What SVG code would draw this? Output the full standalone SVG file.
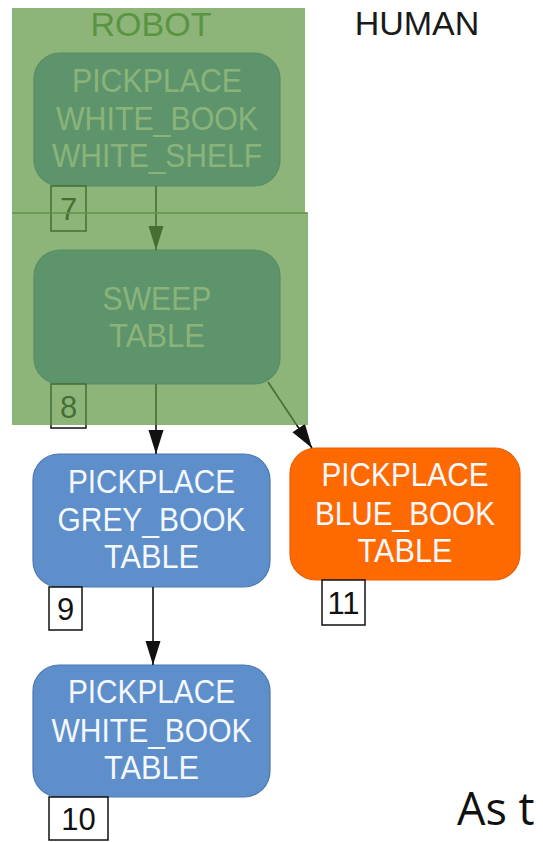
<svg xmlns="http://www.w3.org/2000/svg" width="543" height="842" viewBox="0 0 543 842">
  <style>
    .node { stroke-width: 1.2; }
    .task { fill: #5e8fcb; stroke: #4a78b2; }
    .human { fill: #ff6a00; stroke: #e55f00; }
    .label { font-family: "Liberation Sans", Arial, sans-serif; font-size: 33px; fill: #f4f8ff; text-anchor: middle; }
    .idbox { fill: #ffffff; stroke: #111111; stroke-width: 1.5; }
    .idtxt { font-family: "Liberation Sans", Arial, sans-serif; font-size: 31px; fill: #111111; text-anchor: middle; }
    .edge { stroke: #111111; stroke-width: 1.6; fill: none; marker-end: url(#arrow); }
    .lane { fill: #5c9541; fill-opacity: 0.7; }
    .title { font-family: "Liberation Sans", Arial, sans-serif; font-size: 34px; }
  </style>
  <defs>
    <marker id="arrow" markerUnits="userSpaceOnUse" markerWidth="26" markerHeight="16" refX="24" refY="7.5" orient="auto">
      <path d="M0,0 L24,7.5 L0,15 z" fill="#111111"/>
    </marker>
  </defs>

  <rect width="543" height="842" fill="#ffffff"/>

  <!-- task nodes -->
  <g id="node-7">
    <rect class="node task" x="34" y="53" width="246" height="133" rx="26"/>
    <text class="label" x="157" y="92" textLength="170" lengthAdjust="spacingAndGlyphs">PICKPLACE</text>
    <text class="label" x="157" y="130" textLength="202" lengthAdjust="spacingAndGlyphs">WHITE_BOOK</text>
    <text class="label" x="157" y="167" textLength="210" lengthAdjust="spacingAndGlyphs">WHITE_SHELF</text>
    <rect class="idbox" x="51" y="186" width="35" height="45"/>
    <text class="idtxt" x="68.5" y="220">7</text>
  </g>
  <g id="node-8">
    <rect class="node task" x="34" y="250" width="246" height="134" rx="26"/>
    <text class="label" x="157" y="310" textLength="109" lengthAdjust="spacingAndGlyphs">SWEEP</text>
    <text class="label" x="157" y="347" textLength="96" lengthAdjust="spacingAndGlyphs">TABLE</text>
    <rect class="idbox" x="51" y="384" width="35" height="44"/>
    <text class="idtxt" x="68.5" y="418">8</text>
  </g>
  <g id="node-9">
    <rect class="node task" x="33" y="454" width="237" height="133" rx="26"/>
    <text class="label" x="151.5" y="493" textLength="167" lengthAdjust="spacingAndGlyphs">PICKPLACE</text>
    <text class="label" x="151.5" y="531" textLength="188" lengthAdjust="spacingAndGlyphs">GREY_BOOK</text>
    <text class="label" x="151.5" y="568" textLength="95" lengthAdjust="spacingAndGlyphs">TABLE</text>
    <rect class="idbox" x="49" y="587" width="33" height="43"/>
    <text class="idtxt" x="65.5" y="620">9</text>
  </g>
  <g id="node-10">
    <rect class="node task" x="33" y="665" width="237" height="132" rx="26"/>
    <text class="label" x="151.5" y="703" textLength="167" lengthAdjust="spacingAndGlyphs">PICKPLACE</text>
    <text class="label" x="151.5" y="742" textLength="200" lengthAdjust="spacingAndGlyphs">WHITE_BOOK</text>
    <text class="label" x="151.5" y="779" textLength="95" lengthAdjust="spacingAndGlyphs">TABLE</text>
    <rect class="idbox" x="49" y="797" width="59" height="43"/>
    <text class="idtxt" x="78.5" y="830">10</text>
  </g>
  <g id="node-11">
    <rect class="node human" x="290" y="448" width="230" height="132" rx="26"/>
    <text class="label" x="405" y="486" textLength="167" lengthAdjust="spacingAndGlyphs">PICKPLACE</text>
    <text class="label" x="405" y="525" textLength="180" lengthAdjust="spacingAndGlyphs">BLUE_BOOK</text>
    <text class="label" x="405" y="562" textLength="95" lengthAdjust="spacingAndGlyphs">TABLE</text>
    <rect class="idbox" x="322" y="580" width="43" height="45"/>
    <text class="idtxt" x="343.5" y="614">11</text>
  </g>

  <!-- connectors -->
  <g id="edges">
    <line class="edge" x1="156" y1="186" x2="156" y2="250"/>
    <line class="edge" x1="156" y1="384" x2="156" y2="454"/>
    <line class="edge" x1="268" y1="382" x2="312" y2="448"/>
    <line class="edge" x1="153" y1="587" x2="153" y2="665"/>
  </g>

  <!-- robot lane shading -->
  <g id="robot-lane">
    <rect class="lane" x="12" y="8" width="293" height="205"/>
    <rect class="lane" x="12" y="213" width="296" height="212"/>
    <line x1="12" y1="213" x2="308" y2="213" stroke="#5f9448" stroke-width="1.5"/>
    <text class="title" x="151" y="36" text-anchor="middle" fill="#5a9440">ROBOT</text>
  </g>

  <g id="human-lane">
    <text class="title" x="417" y="35" text-anchor="middle" fill="#1a1a1a">HUMAN</text>
  </g>

  <text x="457" y="825" font-family="'Open Sans', 'DejaVu Sans', sans-serif" font-size="45" fill="#111111">As t</text>
</svg>
